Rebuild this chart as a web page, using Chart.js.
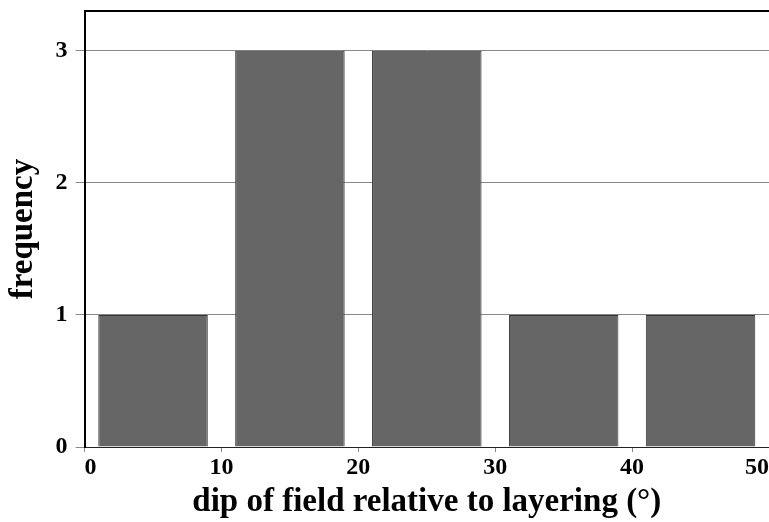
<!DOCTYPE html>
<html>
<head>
<meta charset="utf-8">
<script src="https://cdn.jsdelivr.net/npm/chart.js@4"></script>
<style>
  html, body { margin: 0; padding: 0; background: #fff; }
  #wrap { width: 769px; height: 522px; }
</style>
</head>
<body>
<div id="wrap"><canvas id="dipChart"></canvas></div>
<script>
// histogram bins (centre of each 10 degree bin) and counts
const binCentres = [5, 15, 25, 35, 45];
const counts = [1, 3, 3, 1, 1];
const xTicks = [0, 10, 20, 30, 40, 50];
const yTicks = [0, 1, 2, 3];

const serif = "'Liberation Serif', 'Times New Roman', serif";

// top frame line
const topFrame = {
    id: 'topFrame',
    afterDraw(chart) {
        const { ctx, chartArea } = chart;
        ctx.save();
        ctx.strokeStyle = '#000';
        ctx.lineWidth = 2;
        ctx.beginPath();
        ctx.moveTo(chartArea.left, chartArea.top);
        ctx.lineTo(chartArea.right, chartArea.top);
        ctx.stroke();
        ctx.restore();
    }
};

new Chart(document.getElementById('dipChart'), {
    type: 'bar',
    data: {
        datasets: [{
            data: binCentres.map((x, i) => ({ x: x, y: counts[i] })),
            backgroundColor: '#666666',
            borderColor: '#333333',
            borderWidth: 1,
            categoryPercentage: 1,
            barPercentage: 0.8
        }]
    },
    options: {
        responsive: true,
        maintainAspectRatio: false,
        animation: false,
        layout: { padding: { top: 11, left: 4, right: 0, bottom: 0 } },
        plugins: {
            legend: { display: false },
            tooltip: { enabled: false }
        },
        scales: {
            x: {
                type: 'linear',
                offset: false,
                min: 0,
                max: 50,
                afterBuildTicks(scale) { scale.ticks = xTicks.map(v => ({ value: v })); },
                afterFit(scale) { scale.height = 75; scale.paddingLeft = 0; scale.paddingRight = 0; },
                grid: { offset: false, drawOnChartArea: false, drawTicks: true, tickLength: 5, color: '#888' },
                border: { color: '#222', width: 1 },
                ticks: {
                    align: 'inner',
                    color: '#000',
                    padding: 1,
                    font: { family: serif, size: 24, weight: 'bold' }
                },
                title: {
                    display: true,
                    text: 'dip of field relative to layering (°)',
                    color: '#000',
                    padding: { top: 0, bottom: 0 },
                    font: { family: serif, size: 33, weight: 'bold' }
                }
            },
            y: {
                min: 0,
                max: 3.3,
                afterBuildTicks(scale) { scale.ticks = yTicks.map(v => ({ value: v })); },
                afterFit(scale) { scale.paddingTop = 0; scale.paddingBottom = 0; },
                grid: { color: '#888', lineWidth: 1, tickLength: 9 },
                border: { color: '#000', width: 2 },
                ticks: {
                    color: '#000',
                    padding: 8,
                    font: { family: serif, size: 24, weight: 'bold' }
                },
                title: {
                    display: true,
                    text: 'frequency',
                    color: '#000',
                    padding: { top: 0, bottom: 4 },
                    font: { family: serif, size: 33, weight: 'bold' }
                }
            }
        }
    },
    plugins: [topFrame]
});
</script>
</body>
</html>
